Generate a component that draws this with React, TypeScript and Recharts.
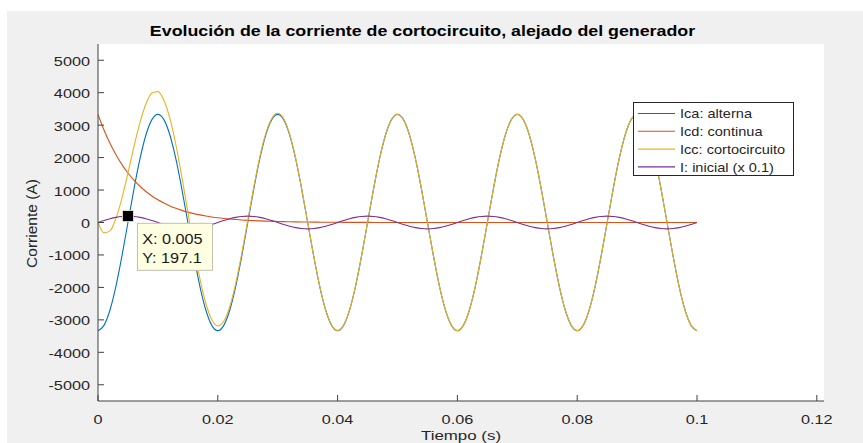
import React from 'react';
import { LineChart, Line, XAxis, YAxis, CartesianGrid, Legend, ReferenceDot } from 'recharts';

// tiempo (s), paso de 1 ms
const tiempo = [
  0, 0.001, 0.002, 0.003, 0.004, 0.005, 0.006, 0.007, 0.008, 0.009,
  0.01, 0.011, 0.012, 0.013, 0.014, 0.015, 0.016, 0.017, 0.018, 0.019,
  0.02, 0.021, 0.022, 0.023, 0.024, 0.025, 0.026, 0.027, 0.028, 0.029,
  0.03, 0.031, 0.032, 0.033, 0.034, 0.035, 0.036, 0.037, 0.038, 0.039,
  0.04, 0.041, 0.042, 0.043, 0.044, 0.045, 0.046, 0.047, 0.048, 0.049,
  0.05, 0.051, 0.052, 0.053, 0.054, 0.055, 0.056, 0.057, 0.058, 0.059,
  0.06, 0.061, 0.062, 0.063, 0.064, 0.065, 0.066, 0.067, 0.068, 0.069,
  0.07, 0.071, 0.072, 0.073, 0.074, 0.075, 0.076, 0.077, 0.078, 0.079,
  0.08, 0.081, 0.082, 0.083, 0.084, 0.085, 0.086, 0.087, 0.088, 0.089,
  0.09, 0.091, 0.092, 0.093, 0.094, 0.095, 0.096, 0.097, 0.098, 0.099,
  0.1,
];

// Ica: alterna
const ica = [
  -3333, -3170, -2696, -1959, -1030, 0, 1030, 1959, 2696, 3170,
  3333, 3170, 2696, 1959, 1030, 0, -1030, -1959, -2696, -3170,
  -3333, -3170, -2696, -1959, -1030, 0, 1030, 1959, 2696, 3170,
  3333, 3170, 2696, 1959, 1030, 0, -1030, -1959, -2696, -3170,
  -3333, -3170, -2696, -1959, -1030, 0, 1030, 1959, 2696, 3170,
  3333, 3170, 2696, 1959, 1030, 0, -1030, -1959, -2696, -3170,
  -3333, -3170, -2696, -1959, -1030, 0, 1030, 1959, 2696, 3170,
  3333, 3170, 2696, 1959, 1030, 0, -1030, -1959, -2696, -3170,
  -3333, -3170, -2696, -1959, -1030, 0, 1030, 1959, 2696, 3170,
  3333, 3170, 2696, 1959, 1030, 0, -1030, -1959, -2696, -3170,
  -3333,
];

// Icd: continua
const icd = [
  3333, 2851, 2439, 2086, 1784, 1526, 1305, 1117, 955, 817,
  699, 598, 511, 437, 374, 320, 274, 234, 200, 171,
  146, 125, 107, 92, 78, 67, 57, 49, 42, 36,
  31, 26, 22, 19, 16, 14, 12, 10, 9, 8,
  6, 5, 4, 4, 3, 3, 2, 2, 2, 1,
  1, 1, 1, 1, 1, 0, 0, 0, 0, 0,
  0, 0, 0, 0, 0, 0, 0, 0, 0, 0,
  0, 0, 0, 0, 0, 0, 0, 0, 0, 0,
  0, 0, 0, 0, 0, 0, 0, 0, 0, 0,
  0, 0, 0, 0, 0, 0, 0, 0, 0, 0,
  0,
];

// Icc: cortocircuito
const icc = [
  0, -319, -257, 127, 754, 1526, 2335, 3076, 3651, 3987,
  4032, 3768, 3207, 2396, 1404, 320, -756, -1725, -2496, -2999,
  -3187, -3045, -2589, -1867, -952, 67, 1087, 2008, 2738, 3206,
  3364, 3196, 2718, 1978, 1046, 14, -1018, -1949, -2687, -3162,
  -3327, -3165, -2692, -1955, -1027, 3, 1032, 1961, 2698, 3171,
  3334, 3171, 2697, 1960, 1031, 0, -1030, -1959, -2696, -3170,
  -3333, -3170, -2696, -1959, -1030, 0, 1030, 1959, 2696, 3170,
  3333, 3170, 2696, 1959, 1030, 0, -1030, -1959, -2696, -3170,
  -3333, -3170, -2696, -1959, -1030, 0, 1030, 1959, 2696, 3170,
  3333, 3170, 2696, 1959, 1030, 0, -1030, -1959, -2696, -3170,
  -3333,
];

// I: inicial (x 0.1)
const iInicial = [
  0, 61, 116, 159, 187, 197, 187, 159, 116, 61,
  0, -61, -116, -159, -187, -197, -187, -159, -116, -61,
  0, 61, 116, 159, 187, 197, 187, 159, 116, 61,
  0, -61, -116, -159, -187, -197, -187, -159, -116, -61,
  0, 61, 116, 159, 187, 197, 187, 159, 116, 61,
  0, -61, -116, -159, -187, -197, -187, -159, -116, -61,
  0, 61, 116, 159, 187, 197, 187, 159, 116, 61,
  0, -61, -116, -159, -187, -197, -187, -159, -116, -61,
  0, 61, 116, 159, 187, 197, 187, 159, 116, 61,
  0, -61, -116, -159, -187, -197, -187, -159, -116, -61,
  0,
];

const xTicks = [0, 0.02, 0.04, 0.06, 0.08, 0.1, 0.12];
const yTicks = [-5000, -4000, -3000, -2000, -1000, 0, 1000, 2000, 3000, 4000, 5000];
const datatip = { x: 0.005, y: 197.1 };

const series = [
  { key: 'ica', name: 'Ica: alterna', color: '#0072BD' },
  { key: 'icd', name: 'Icd: continua', color: '#D95319' },
  { key: 'icc', name: 'Icc: cortocircuito', color: '#EDB120' },
  { key: 'ini', name: 'I: inicial (x 0.1)', color: '#7E2F8E' },
];

const data = tiempo.map((t, i) => ({ t, ica: ica[i], icd: icd[i], icc: icc[i], ini: iInicial[i] }));

const FONT = '"Liberation Sans", Arial, Helvetica, sans-serif';
const W = 856;
const H = 432;
const MARGIN = { top: 33, right: 39, bottom: 12, left: 31 };
const YAXIS_W = 60;
const XAXIS_H = 30;
const PLOT_LEFT = MARGIN.left + YAXIS_W;
const PLOT_BOTTOM = H - MARGIN.bottom - XAXIS_H;
const AXIS_COLOR = '#404040';
const TEXT_COLOR = '#262626';

function Txt({ x, y, sx = 1, rotate = 0, anchor = 'middle', size = 13, weight = 'normal', fill = TEXT_COLOR, children }: any) {
  const tr = `translate(${x},${y})${rotate ? ` rotate(${rotate})` : ''} scale(${sx},1)`;
  return (
    <text transform={tr} textAnchor={anchor} fontSize={size} fontWeight={weight} fill={fill} fontFamily={FONT}>
      {children}
    </text>
  );
}

function XTick({ x, payload }: any) {
  return (
    <g>
      <line x1={x} x2={x} y1={PLOT_BOTTOM} y2={PLOT_BOTTOM - 6} stroke={AXIS_COLOR} />
      <Txt x={x} y={PLOT_BOTTOM + 23} sx={1.25}>{String(payload.value)}</Txt>
    </g>
  );
}

function YTick({ y, payload }: any) {
  return (
    <g>
      <line x1={PLOT_LEFT} x2={PLOT_LEFT + 6} y1={y} y2={y} stroke={AXIS_COLOR} />
      <Txt x={PLOT_LEFT - 8} y={y + 5.5} sx={1.25} anchor="end">{String(payload.value)}</Txt>
    </g>
  );
}

function LegendBox() {
  return (
    <svg width={161} height={74} style={{ display: 'block' }}>
      <rect x={0.5} y={0.5} width={160} height={73} fill="#ffffff" stroke={TEXT_COLOR} />
      {series.map((s, i) => {
        const cy = 11.5 + i * 17.8;
        return (
          <g key={s.key}>
            <line x1={5} x2={42} y1={cy} y2={cy} stroke={s.color} strokeWidth={1.1} />
            <Txt x={47} y={cy + 4.6} sx={1.12} anchor="start">{s.name}</Txt>
          </g>
        );
      })}
    </svg>
  );
}

function DataTip({ cx, cy }: any) {
  return (
    <g>
      <rect x={cx - 5.5} y={cy - 5.5} width={11} height={11} fill="#000000" stroke="#f4f0c8" strokeWidth={0.8} />
      <rect x={cx + 9.5} y={cy + 7.2} width={75} height={47} fill="#ffffe1" stroke="#c0c0b0" />
      <Txt x={cx + 14.2} y={cy + 28.2} sx={1.12} size={14.5} anchor="start" fill="#1a1a1a">{`X: ${datatip.x}`}</Txt>
      <Txt x={cx + 14.2} y={cy + 46.9} sx={1.12} size={14.5} anchor="start" fill="#1a1a1a">{`Y: ${datatip.y}`}</Txt>
    </g>
  );
}

export default function App() {
  return (
    <div style={{ position: 'relative', width: 863, height: 443, background: '#ffffff', overflow: 'hidden' }}>
      <style>{'body{margin:0;overflow:hidden}'}</style>
      <div style={{ position: 'absolute', left: 7, top: 11, width: W, height: H, background: '#f0f0f0' }}>
        <LineChart width={W} height={H} data={data} margin={MARGIN}>
          <CartesianGrid horizontal={false} vertical={false} fill="#ffffff" stroke="none" />
          <XAxis
            dataKey="t"
            type="number"
            domain={[0, 0.1212]}
            ticks={xTicks}
            interval={0}
            height={XAXIS_H}
            allowDataOverflow
            tickLine={false}
            axisLine={{ stroke: AXIS_COLOR }}
            tick={<XTick />}
          />
          <YAxis
            type="number"
            domain={[-5500, 5500]}
            ticks={yTicks}
            interval={0}
            width={YAXIS_W}
            allowDataOverflow
            tickLine={false}
            axisLine={{ stroke: AXIS_COLOR }}
            tick={<YTick />}
          />
          {series.map((s) => (
            <Line
              key={s.key}
              type="monotone"
              dataKey={s.key}
              name={s.name}
              stroke={s.color}
              strokeWidth={1.1}
              dot={false}
              activeDot={false}
              isAnimationActive={false}
            />
          ))}
          <ReferenceDot x={datatip.x} y={datatip.y} shape={(p: any) => <DataTip cx={p.cx} cy={p.cy} />} />
          <Legend
            layout="vertical"
            align="center"
            verticalAlign="middle"
            content={() => <LegendBox />}
            wrapperStyle={{ position: 'absolute', left: 626, top: 91, width: 161, height: 74 }}
          />
          <Txt x={415.5} y={24.7} sx={1.15} size={15.5} weight="bold" fill="#000000">
            Evolución de la corriente de cortocircuito, alejado del generador
          </Txt>
          <Txt x={29.7} y={212.5} sx={1.11} size={14} rotate={-90}>Corriente (A)</Txt>
          <Txt x={454} y={428.5} sx={1.3} size={13}>Tiempo (s)</Txt>
        </LineChart>
      </div>
    </div>
  );
}
